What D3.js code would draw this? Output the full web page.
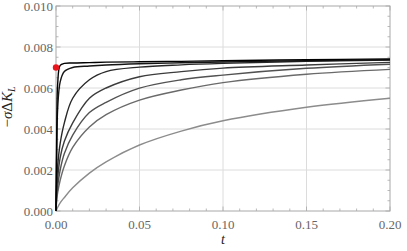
<!DOCTYPE html>
<html>
<head>
<meta charset="utf-8">
<script src="https://cdn.jsdelivr.net/npm/d3@7"></script>
<style>
body{margin:0;background:#fff;}
svg text{font-family:"Liberation Serif","DejaVu Serif","Times New Roman",serif;}
</style>
</head>
<body>
<div class="chart"></div>
<script>
// sample times shared by all curves
var tVals=[0,0.0005,0.001,0.0025,0.005,0.01,0.02,0.03,0.05,0.075,0.1,0.15,0.2];
// values, top (black) to bottom (gray)
var curve1=[0,0.0042,0.0062,0.0071,0.0072,0.00722,0.00724,0.00726,0.00728,0.0073,0.00733,0.00738,0.00742];
var curve2=[0,0.0032,0.0050,0.0063,0.0068,0.0070,0.00707,0.00712,0.00718,0.00723,0.00727,0.00733,0.00738];
var curve3=[0,0.0015,0.0022,0.0033,0.0043,0.0055,0.0064,0.0068,0.00702,0.00713,0.0072,0.0073,0.00736];
var curve4=[0,0.0011,0.0016,0.0026,0.0034,0.0043,0.0055,0.0060,0.00655,0.0068,0.00697,0.00712,0.00725];
var curve5=[0,0.0008,0.0012,0.0020,0.0028,0.0037,0.0048,0.0053,0.00599,0.0064,0.00663,0.00696,0.00716];
var curve6=[0,0.0006,0.0009,0.0015,0.0022,0.0031,0.0041,0.0047,0.00541,0.0059,0.00626,0.00667,0.00691];
var curve7=[0,0.00009,0.00018,0.0004,0.00066,0.00113,0.00185,0.0024,0.00322,0.0039,0.0044,0.00506,0.0055];
var curves=[curve1,curve2,curve3,curve4,curve5,curve6,curve7];
var colors=['#000','#151515','#282828','#3c3c3c','#525252','#6a6a6a','#8c8c8c'];
var redPoint=[0,0.0070];

var xTicks=[0,0.05,0.10,0.15,0.20];
var yTicks=[0,0.002,0.004,0.006,0.008,0.010];

(function(){
var width=407, height=251;
var pL=56, pR=390, pT=6, pB=211;

var svg=d3.select('div.chart')
	.append('svg')
	.attr('width',width)
	.attr('height',height);

var x=d3.scaleLinear().domain([0,0.2]).range([pL,pR]);
var y=d3.scaleLinear().domain([0,0.010]).range([pB,pT]);

// grid
svg.append('g').selectAll('line')
	.data(xTicks.slice(1,-1))
	.enter().append('line')
	.attr('x1',d=>x(d)).attr('x2',d=>x(d))
	.attr('y1',pT).attr('y2',pB)
	.attr('stroke','#dcdcdc').attr('stroke-width',1);
svg.append('g').selectAll('line')
	.data(yTicks.slice(1,-1))
	.enter().append('line')
	.attr('y1',d=>y(d)).attr('y2',d=>y(d))
	.attr('x1',pL).attr('x2',pR)
	.attr('stroke','#dcdcdc').attr('stroke-width',1);

// frame ticks (inward), major + minor
var frameColor='#a8a8a8';
var xMinor=d3.range(0,0.2001,0.01);
var yMinor=d3.range(0,0.01001,0.0005);
function isMajor(v,step){return Math.abs(v/step-Math.round(v/step))<1e-6;}
var tk=svg.append('g').attr('stroke',frameColor).attr('stroke-width',0.8);
xMinor.forEach(function(v){
	var len=isMajor(v,0.05)?4.5:2.5;
	tk.append('line').attr('x1',x(v)).attr('x2',x(v)).attr('y1',pB).attr('y2',pB-len);
	tk.append('line').attr('x1',x(v)).attr('x2',x(v)).attr('y1',pT).attr('y2',pT+len);
});
yMinor.forEach(function(v){
	var len=isMajor(v,0.002)?4.5:2.5;
	tk.append('line').attr('y1',y(v)).attr('y2',y(v)).attr('x1',pL).attr('x2',pL+len);
	tk.append('line').attr('y1',y(v)).attr('y2',y(v)).attr('x1',pR).attr('x2',pR-len);
});

svg.append('rect')
	.attr('x',pL).attr('y',pT)
	.attr('width',pR-pL).attr('height',pB-pT)
	.attr('fill','none').attr('stroke',frameColor).attr('stroke-width',1);

// tick labels
svg.append('g').selectAll('text')
	.data(xTicks)
	.enter().append('text')
	.attr('x',d=>x(d)).attr('y',229)
	.attr('text-anchor','middle')
	.attr('font-size','13px')
	.attr('fill','#666')
	.text(d=>d3.format('.2f')(d));
svg.append('g').selectAll('text')
	.data(yTicks)
	.enter().append('text')
	.attr('x',pL-3).attr('y',d=>y(d)+4.5)
	.attr('text-anchor','end')
	.attr('font-size','13px')
	.attr('fill','#666')
	.text(d=>d3.format('.3f')(d));

// curves
var line=d3.line()
	.x((d,i)=>x(tVals[i]))
	.y(d=>y(d))
	.curve(d3.curveCatmullRom.alpha(0.5));
svg.append('g').selectAll('path')
	.data(curves.slice().reverse())
	.enter().append('path')
	.attr('d',d=>line(d))
	.attr('fill','none')
	.attr('stroke',(d,i)=>colors[colors.length-1-i])
	.attr('stroke-width',1.4);

svg.append('circle')
	.attr('cx',x(redPoint[0])).attr('cy',y(redPoint[1]))
	.attr('r',3.2).attr('fill','#e8161c');

// axis labels
svg.append('text')
	.attr('x',x(0.1)).attr('y',244)
	.attr('text-anchor','middle')
	.attr('font-style','italic')
	.attr('font-size','14px')
	.attr('fill','#222')
	.text('t');
var yl=svg.append('text')
	.attr('transform','translate(12,107) rotate(-90)')
	.attr('text-anchor','middle')
	.attr('font-size','15px')
	.attr('fill','#222');
yl.append('tspan').text('\u2212');
yl.append('tspan').attr('font-style','italic').text('\u03c3');
yl.append('tspan').text('\u0394');
yl.append('tspan').attr('font-style','italic').text('K');
yl.append('tspan').attr('font-style','italic').attr('font-size','10px').attr('dy',3).text('L');
})();
</script>
</body>
</html>
